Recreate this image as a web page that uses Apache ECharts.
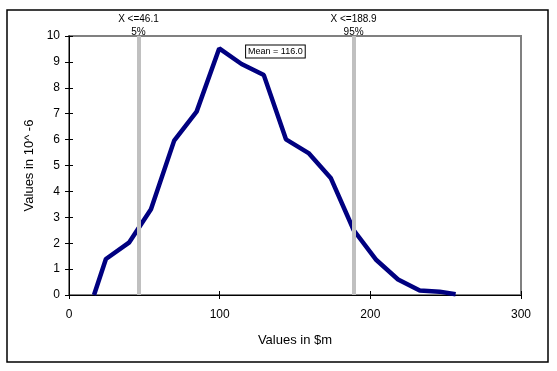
<!DOCTYPE html>
<html><head><meta charset="utf-8">
<script src="https://cdn.jsdelivr.net/npm/echarts@6/dist/echarts.min.js"></script>
<style>html,body{margin:0;padding:0;background:#fff}#c{width:557px;height:371px}</style>
</head><body><div id="c"></div>
<script>
var xValues = [16.6, 24.5, 39.8, 54.4, 69.8, 84.7, 99.7, 114.5, 129.3, 144.0, 159.0, 173.7, 189.0, 204.0, 218.4, 232.8, 246.0, 256.6];
var yValues = [0, 1.39, 2.02, 3.31, 5.96, 7.08, 9.52, 8.92, 8.49, 6.01, 5.48, 4.52, 2.5, 1.35, 0.6, 0.17, 0.13, 0.03];
var markerX = [46.1, 188.9];
var markerLabels = ['X <=46.1\n5%', 'X <=188.9\n95%'];
var meanText = 'Mean = 116.0';
var meanPos = [137.0, 9.4];

var font = 'Liberation Sans, Arial, sans-serif';
var chart = echarts.init(document.getElementById('c'));
var lineData = xValues.map(function(x, i){ return [x, yValues[i]]; });
var labelStyle = {color: '#000', fontFamily: font, fontSize: 12};
var nameStyle = {color: '#000', fontFamily: font, fontSize: 13};
chart.setOption({
  animation: false,
  grid: {left: 69, top: 36, right: 36, bottom: 76, show: true, borderColor: '#808080', borderWidth: 2},
  xAxis: [{
    type: 'value', min: 0, max: 300, interval: 100,
    name: 'Values in $m', nameLocation: 'middle', nameGap: 39,
    nameTextStyle: nameStyle,
    axisLine: {show: true, lineStyle: {color: '#000', width: 1}},
    axisTick: {show: true, length: 4, lineStyle: {color: '#000'}},
    splitLine: {show: false},
    axisLabel: Object.assign({margin: 14}, labelStyle)
  }, {
    type: 'value', min: 0, max: 300, interval: 100, position: 'bottom',
    axisLine: {show: false}, splitLine: {show: false}, axisLabel: {show: false},
    axisTick: {show: true, inside: true, length: 4, lineStyle: {color: '#000'}}
  }],
  yAxis: [{
    type: 'value', min: 0, max: 10, interval: 1,
    name: 'Values in 10^ -6', nameLocation: 'middle', nameGap: 29,
    nameTextStyle: nameStyle,
    axisLine: {show: true, lineStyle: {color: '#000', width: 1}},
    axisTick: {show: true, length: 4, lineStyle: {color: '#000'}},
    splitLine: {show: false},
    axisLabel: Object.assign({margin: 9}, labelStyle)
  }, {
    type: 'value', min: 0, max: 10, interval: 1, position: 'left',
    axisLine: {show: false}, splitLine: {show: false}, axisLabel: {show: false},
    axisTick: {show: true, inside: true, length: 4, lineStyle: {color: '#000'}}
  }],
  graphic: [{
    type: 'rect', shape: {x: 7, y: 10, width: 541, height: 352},
    style: {fill: 'none', stroke: '#000', lineWidth: 1.5}, z: -1
  }],
  series: [{
    type: 'line', data: lineData, symbol: 'none',
    lineStyle: {color: '#000080', width: 4.5}, z: 3,
    markPoint: {
      symbol: 'rect', symbolSize: 0,
      data: [{coord: meanPos, value: meanText}],
      label: {show: true, formatter: meanText, color: '#000', fontFamily: font, fontSize: 9,
        backgroundColor: '#fff', borderColor: '#000', borderWidth: 1, padding: [2, 2, 1, 2]}
    }
  }, {
    type: 'line', data: [], z: 2,
    markLine: {
      symbol: 'none', silent: true,
      lineStyle: {color: '#c0c0c0', width: 4, type: 'solid'},
      label: {show: true, position: 'end', color: '#000', fontFamily: font, fontSize: 10, lineHeight: 13,
        formatter: function(p){ return markerLabels[p.dataIndex]; }, distance: -3},
      data: markerX.map(function(v){ return {xAxis: v}; })
    }
  }]
});
</script></body></html>
